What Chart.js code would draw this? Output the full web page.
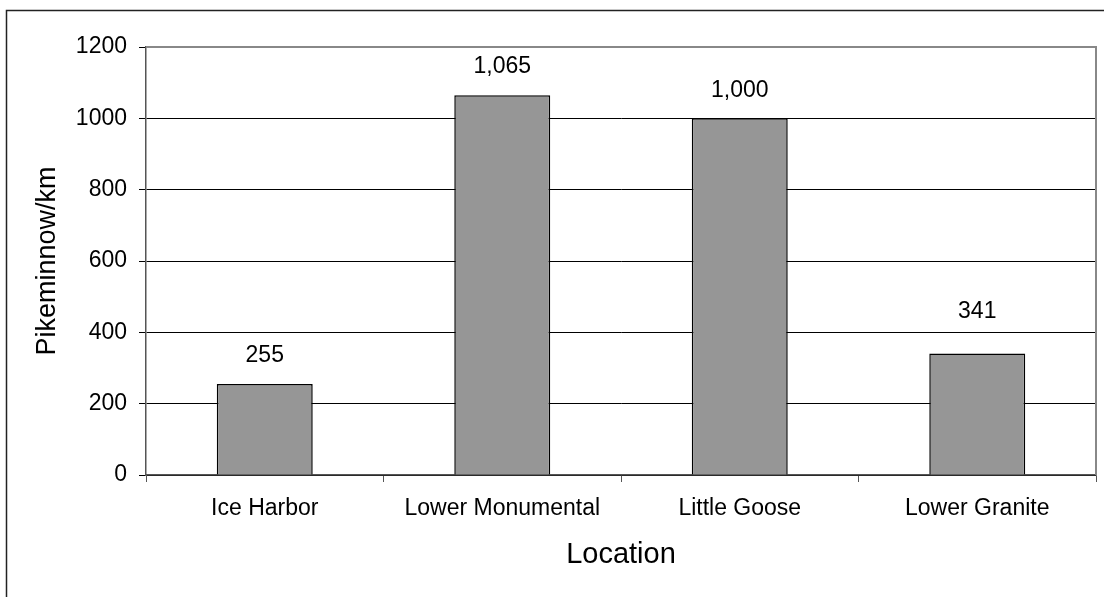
<!DOCTYPE html>
<html>
<head>
<meta charset="utf-8">
<script src="https://cdn.jsdelivr.net/npm/chart.js@4.4.0/dist/chart.umd.min.js"></script>
<style>
    html, body { margin: 0; padding: 0; background: #fff; }
    #wrap { width: 1104px; height: 597px; position: relative; }
</style>
</head>
<body>
<div id="wrap"><canvas id="chart"></canvas></div>
<script>
(function () {
    "use strict";

    const locations = ["Ice Harbor", "Lower Monumental", "Little Goose", "Lower Granite"];
    const pikeminnowPerKm = [255, 1065, 1000, 341];
    const yTicks = [0, 200, 400, 600, 800, 1000, 1200];

    const FONT = "'Liberation Sans', Arial, sans-serif";

    // frame around the whole picture and the plot area border
    const framePlugin = {
        id: "frame",
        beforeDraw(chart) {
            const ctx = chart.ctx;
            ctx.save();
            ctx.strokeStyle = "#222";
            ctx.lineWidth = 1.5;
            ctx.beginPath();
            ctx.moveTo(6.5, chart.height);
            ctx.lineTo(6.5, 10.5);
            ctx.lineTo(chart.width, 10.5);
            ctx.stroke();
            ctx.restore();
        },
        afterDraw(chart) {
            const a = chart.chartArea;
            const ctx = chart.ctx;
            ctx.save();
            ctx.strokeStyle = "#888";
            ctx.lineWidth = 2;
            ctx.beginPath();
            ctx.moveTo(a.left, a.top);
            ctx.lineTo(a.right, a.top);
            ctx.lineTo(a.right, a.bottom);
            ctx.stroke();
            ctx.restore();
        },
    };

    // value labels above bars, lifted clear of a gridline they would cross
    const valueLabels = {
        id: "valueLabels",
        afterDatasetsDraw(chart) {
            const ctx = chart.ctx;
            const meta = chart.getDatasetMeta(0);
            const yScale = chart.scales.y;
            const half = 9;
            ctx.save();
            ctx.font = "23px " + FONT;
            ctx.fillStyle = "#000";
            ctx.textAlign = "center";
            ctx.textBaseline = "middle";
            meta.data.forEach((bar, i) => {
                const v = chart.data.datasets[0].data[i];
                let y = bar.y - 28;
                yTicks.forEach((t) => {
                    const gy = yScale.getPixelForValue(t);
                    if (gy > y - half && gy < y + half) y = gy - half - 12;
                });
                ctx.fillText(v.toLocaleString("en-US"), bar.x, y);
            });
            ctx.restore();
        },
    };

    new Chart(document.getElementById("chart"), {
        type: "bar",
        data: {
            labels: locations,
            datasets: [
                {
                    data: pikeminnowPerKm,
                    backgroundColor: "#969696",
                    borderColor: "#000",
                    borderWidth: 1.5,
                    borderSkipped: "bottom",
                    categoryPercentage: 1,
                    barPercentage: 0.404,
                },
            ],
        },
        options: {
            responsive: true,
            maintainAspectRatio: false,
            animation: false,
            layout: { padding: { left: 0, top: 47, right: 8, bottom: 0 } },
            plugins: {
                legend: { display: false },
                tooltip: { enabled: false },
            },
            scales: {
                x: {
                    grid: {
                        drawOnChartArea: false,
                        drawTicks: true,
                        tickLength: 7,
                        color: "#555",
                    },
                    border: { color: "#555", width: 1.5 },
                    ticks: {
                        color: "#000",
                        font: { family: FONT, size: 23 },
                        padding: 13,
                        maxRotation: 0,
                    },
                    title: {
                        display: true,
                        text: "Location",
                        color: "#000",
                        font: { family: FONT, size: 29 },
                        padding: { top: 0, bottom: 25 },
                    },
                    afterFit(scale) { scale.height = 122; },
                },
                y: {
                    min: 0,
                    max: 1200,
                    afterBuildTicks(scale) {
                        scale.ticks = yTicks.map((v) => ({ value: v }));
                    },
                    grid: {
                        color: "#000",
                        lineWidth: 1,
                        tickLength: 7,
                    },
                    border: { color: "#555", width: 1.5 },
                    ticks: {
                        color: "#000",
                        font: { family: FONT, size: 23 },
                        padding: 12,
                        callback: (v) => String(v),
                    },
                    title: {
                        display: true,
                        text: "Pikeminnow/km",
                        color: "#000",
                        font: { family: FONT, size: 27 },
                        padding: { top: 31, bottom: 0 },
                    },
                    afterFit(scale) { scale.width = 146; },
                },
            },
        },
        plugins: [framePlugin, valueLabels],
    });
})();
</script>
</body>
</html>
